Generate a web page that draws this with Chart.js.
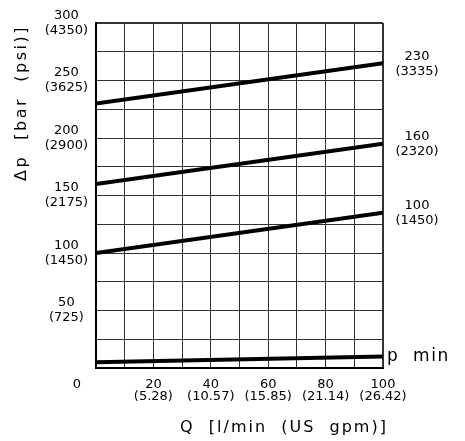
<!DOCTYPE html>
<html>
<head>
<meta charset="utf-8">
<script src="https://cdn.jsdelivr.net/npm/chart.js@4.4.1/dist/chart.umd.min.js"></script>
<style>
  html, body { margin: 0; padding: 0; background: #fff; }
  #wrap { width: 465px; height: 441px; }
</style>
</head>
<body>
<div id="wrap"><canvas id="chart" width="465" height="441"></canvas></div>
<script>
// flow in l/min, pressure drop in bar
const flows = [0, 100];
const dp230 = [230, 265];
const dp160 = [160, 195];
const dp100 = [100, 135];
const dpMin = [5, 10];

const curveLabels = [['230', '(3335)'], ['160', '(2320)'], ['100', '(1450)'], ['p  min']];

const yTickValues = [50, 100, 150, 200, 250, 300];
const yTickPsi = ['(725)', '(1450)', '(2175)', '(2900)', '(3625)', '(4350)'];
const xTickValues = [20, 40, 60, 80, 100];
const xTickGpm = ['(5.28)', '(10.57)', '(15.85)', '(21.14)', '(26.42)'];

const FONT = 'DejaVu Sans';

function toPoints(ys) {
  return flows.map((q, i) => ({ x: q, y: ys[i] }));
}

const series = [dp230, dp160, dp100, dpMin];

const labelPlugin = {
  id: 'labels',
  afterDraw(chart) {
    const ctx = chart.ctx;
    const xs = chart.scales.x;
    const ys = chart.scales.y;
    ctx.save();
    ctx.fillStyle = '#000';
    ctx.textAlign = 'center';
    ctx.textBaseline = 'middle';

    // curve labels at the right end of each line
    series.forEach((s, i) => {
      const yEnd = ys.getPixelForValue(s[s.length - 1]);
      const lines = curveLabels[i];
      if (lines.length === 1) {
        ctx.font = '17px ' + FONT;
        ctx.letterSpacing = '1.5px';
        ctx.textAlign = 'left';
        ctx.fillText(lines[0], xs.right + 4, yEnd);
        ctx.letterSpacing = '0px';
      } else {
        ctx.font = '13px ' + FONT;
        ctx.textAlign = 'center';
        ctx.fillText(lines[0], xs.right + 34, yEnd - 7);
        ctx.fillText(lines[1], xs.right + 34, yEnd + 8);
      }
    });

    // origin label
    ctx.font = '13px ' + FONT;
    ctx.textAlign = 'center';
    ctx.fillText('0', xs.left - 19, ys.bottom + 17);

    // x title
    ctx.font = '16px ' + FONT;
    ctx.letterSpacing = '2px';
    ctx.fillText('Q  [l/min  (US  gpm)]', 284, 428);

    // y title
    ctx.translate(22, 103);
    ctx.rotate(-Math.PI / 2);
    ctx.letterSpacing = '2.5px';
    ctx.fillText('\u0394p  [bar  (psi)]', 0, 0);
    ctx.restore();
  }
};

const edgeWidth = max => c => (c.tick && c.tick.value === max ? 2 : 1);

new Chart(document.getElementById('chart'), {
  type: 'line',
  data: {
    datasets: series.map(s => ({
      data: toPoints(s),
      borderColor: '#000',
      borderWidth: 4,
      pointRadius: 0,
      tension: 0,
      fill: false
    }))
  },
  options: {
    responsive: false,
    animation: false,
    devicePixelRatio: 1,
    layout: { padding: { top: 23, right: 82, left: 0, bottom: 0 } },
    plugins: { legend: { display: false }, tooltip: { enabled: false } },
    scales: {
      x: {
        type: 'linear',
        min: 0,
        max: 100,
        afterFit(scale) { scale.height = 73; },
        grid: { color: '#333', lineWidth: edgeWidth(100), drawTicks: false },
        border: { color: '#000', width: 2 },
        ticks: {
          stepSize: 10,
          autoSkip: false,
          maxRotation: 0,
          padding: 10,
          color: '#000',
          font: { family: FONT, size: 13, lineHeight: 0.95 },
          callback: v => {
            const i = xTickValues.indexOf(v);
            return i < 0 ? '' : [String(v), xTickGpm[i]];
          }
        }
      },
      y: {
        min: 0,
        max: 300,
        afterFit(scale) { scale.width = 96; },
        grid: { color: '#333', lineWidth: edgeWidth(300), drawTicks: false },
        border: { color: '#000', width: 2 },
        ticks: {
          stepSize: 25,
          autoSkip: false,
          padding: 8,
          crossAlign: 'center',
          color: '#000',
          font: { family: FONT, size: 13, lineHeight: 1.15 },
          callback: v => {
            const i = yTickValues.indexOf(v);
            return i < 0 ? '' : [String(v), yTickPsi[i]];
          }
        }
      }
    }
  },
  plugins: [labelPlugin]
});
</script>
</body>
</html>
